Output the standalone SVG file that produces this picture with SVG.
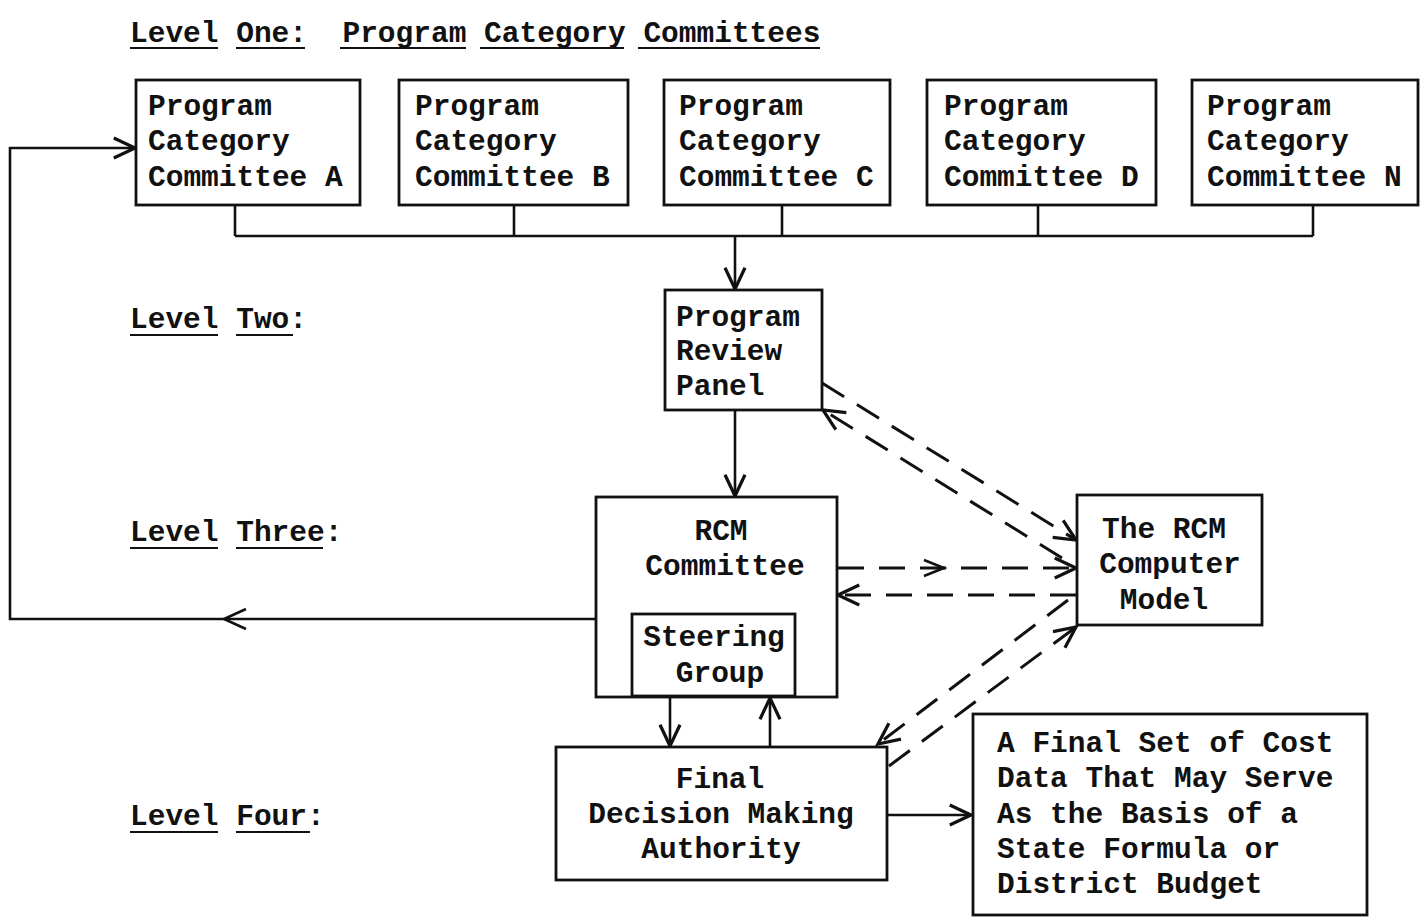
<svg xmlns="http://www.w3.org/2000/svg" width="1426" height="921" viewBox="0 0 1426 921">
<style>
text{font-family:"Liberation Mono","DejaVu Sans Mono",monospace;font-size:29.5px;font-weight:bold;fill:#111}
.box{fill:#fff;stroke:#111;stroke-width:2.8}
.ln{fill:none;stroke:#111;stroke-width:2.6}
.dash{fill:none;stroke:#111;stroke-width:3;stroke-dasharray:26 15}
.ul{stroke:#111;stroke-width:2.2}
.mid{text-anchor:middle}
</style>
<defs>
<marker id="ah" markerUnits="userSpaceOnUse" markerWidth="30" markerHeight="30" viewBox="-20 -12 24 24" refX="0" refY="0" orient="auto">
<path d="M-17,-8 L0,0 L-17,8" fill="none" stroke="#111" stroke-width="2.6" stroke-dasharray="none"/>
</marker>
</defs>
<rect width="1426" height="921" fill="#fff"/>
<g id="labels">
<text x="130" y="42" xml:space="preserve">Level One:  Program Category Committees</text>
<line class="ul" x1="130" y1="48" x2="218" y2="48"/>
<line class="ul" x1="236" y1="48" x2="305" y2="48"/>
<line class="ul" x1="340" y1="48" x2="466" y2="48"/>
<line class="ul" x1="480" y1="48" x2="624" y2="48"/>
<line class="ul" x1="638" y1="48" x2="820" y2="48"/>
<text x="130" y="328">Level Two:</text>
<line class="ul" x1="130" y1="335" x2="218" y2="335"/>
<line class="ul" x1="236" y1="335" x2="293" y2="335"/>
<text x="130" y="541">Level Three:</text>
<line class="ul" x1="130" y1="548" x2="218" y2="548"/>
<line class="ul" x1="236" y1="548" x2="323" y2="548"/>
<text x="130" y="825">Level Four:</text>
<line class="ul" x1="130" y1="832" x2="218" y2="832"/>
<line class="ul" x1="236" y1="832" x2="310" y2="832"/>
</g>
<g id="connectors">
<path class="ln" d="M235,205 V236 M514,205 V236 M782,205 V236 M1038,205 V236 M1313,205 V236 M235,236 H1313"/>
<path class="ln" d="M735,236 V289" marker-end="url(#ah)"/>
<path class="ln" d="M735,410 V496" marker-end="url(#ah)"/>
<path class="ln" d="M596,619 H10 V148 H135" marker-end="url(#ah)"/>
<path class="ln" d="M246,609 L224,619 L246,629"/>
<path class="ln" d="M670,697 V746" marker-end="url(#ah)"/>
<path class="ln" d="M770,747 V698" marker-end="url(#ah)"/>
<path class="ln" d="M887,815 H971" marker-end="url(#ah)"/>
<path class="dash" d="M822,383 L1076,540" marker-end="url(#ah)"/>
<path class="dash" d="M1062,558 L823,410" marker-end="url(#ah)"/>
<path class="dash" d="M838,568 H1076" marker-end="url(#ah)"/>
<path class="ln" d="M924,560 L944,568 L924,576"/>
<path class="dash" d="M1076,595 H838" marker-end="url(#ah)"/>
<path class="dash" d="M1068,600 L878,744" marker-end="url(#ah)"/>
<path class="dash" d="M889,766 L1076,627" marker-end="url(#ah)"/>
</g>
<g id="pcA"><rect class="box" x="136" y="80" width="224" height="125"/>
<text x="148" y="115">Program</text><text x="148" y="150">Category</text><text x="148" y="186">Committee A</text></g>
<g id="pcB"><rect class="box" x="399" y="80" width="229" height="125"/>
<text x="415" y="115">Program</text><text x="415" y="150">Category</text><text x="415" y="186">Committee B</text></g>
<g id="pcC"><rect class="box" x="664" y="80" width="226" height="125"/>
<text x="679" y="115">Program</text><text x="679" y="150">Category</text><text x="679" y="186">Committee C</text></g>
<g id="pcD"><rect class="box" x="927" y="80" width="229" height="125"/>
<text x="944" y="115">Program</text><text x="944" y="150">Category</text><text x="944" y="186">Committee D</text></g>
<g id="pcN"><rect class="box" x="1192" y="80" width="226" height="125"/>
<text x="1207" y="115">Program</text><text x="1207" y="150">Category</text><text x="1207" y="186">Committee N</text></g>
<g id="panel"><rect class="box" x="665" y="290" width="157" height="120"/>
<text x="676" y="326">Program</text><text x="676" y="360">Review</text><text x="676" y="395">Panel</text></g>
<g id="rcm"><rect class="box" x="596" y="497" width="241" height="200"/>
<text class="mid" x="721" y="540">RCM</text><text class="mid" x="725" y="575">Committee</text></g>
<g id="steering"><rect class="box" x="632" y="614" width="163" height="82"/>
<text class="mid" x="714" y="646">Steering</text><text class="mid" x="720" y="682">Group</text></g>
<g id="computer"><rect class="box" x="1077" y="495" width="185" height="130"/>
<text class="mid" x="1164" y="538">The RCM</text><text class="mid" x="1170" y="573">Computer</text><text class="mid" x="1164" y="609">Model</text></g>
<g id="final"><rect class="box" x="556" y="747" width="331" height="133"/>
<text class="mid" x="720" y="788">Final</text><text class="mid" x="721" y="823">Decision Making</text><text class="mid" x="721" y="858">Authority</text></g>
<g id="finalset"><rect class="box" x="973" y="714" width="394" height="201"/>
<text x="997" y="752">A Final Set of Cost</text><text x="997" y="787">Data That May Serve</text><text x="997" y="823">As the Basis of a</text><text x="997" y="858">State Formula or</text><text x="997" y="893">District Budget</text></g>
</svg>
